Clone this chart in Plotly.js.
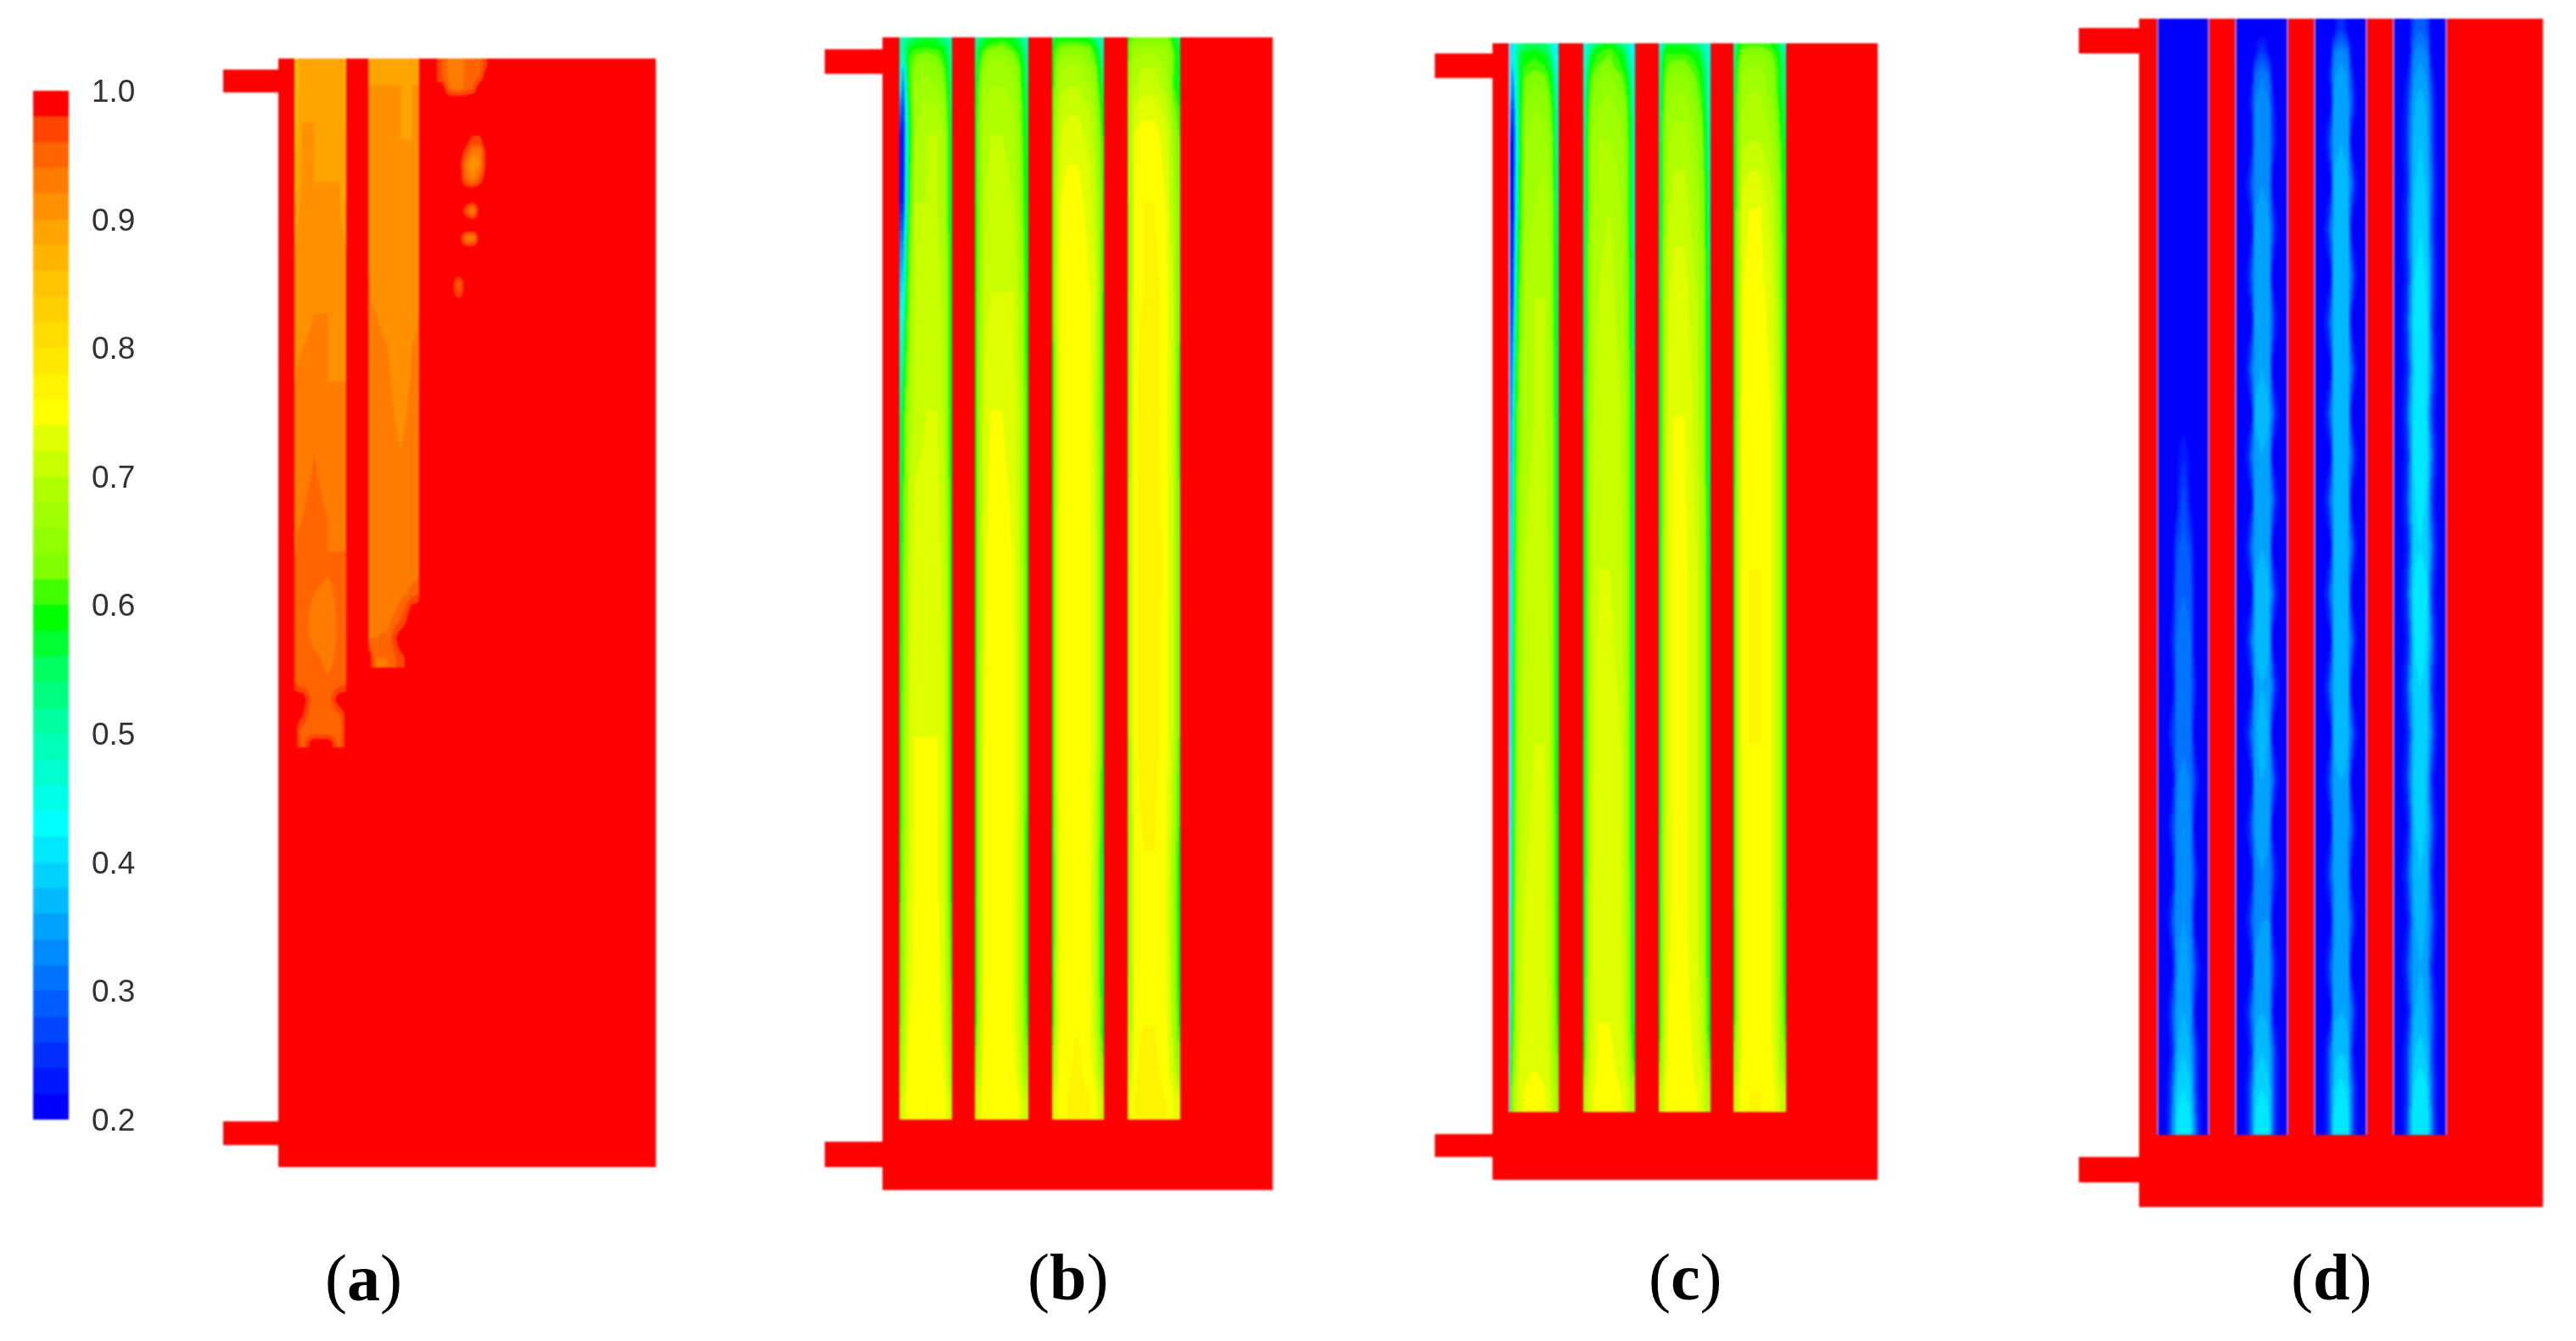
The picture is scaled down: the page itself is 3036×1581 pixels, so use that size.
<!DOCTYPE html>
<html>
<head>
<meta charset="utf-8">
<script src="https://cdn.plot.ly/plotly-3.0.1.min.js"></script>
<style>
	html, body { margin: 0; padding: 0; background: #ffffff; }
	#plot { width: 3036px; height: 1581px; }
	/* the source picture is a soft raster, so take the edge off the fields */
	#plot .cartesianlayer, #plot .cbfills { filter: blur(1.2px); }
</style>
</head>
<body>
<div id="plot"></div>
<script>
const WIDTH = 3036;
const HEIGHT = 1581;

// 40 legend bands, from 0.20 up to 1.00
const bandColors = [
	"#0000ff", "#0017ff", "#002eff", "#0046ff", "#005dff", "#0074ff", "#008bff", "#00a2ff",
	"#00b9ff", "#00d1ff", "#00e8ff", "#00ffff", "#00ffe8", "#00ffd0", "#00ffb8", "#00ffa0",
	"#00ff80", "#00ff60", "#00ff30", "#00ff00", "#40ff00", "#80ff00", "#90ff00", "#a0ff00",
	"#b0ff00", "#c8ff00", "#e0ff00", "#ffff00", "#fff400", "#ffe800", "#ffdc00", "#ffd000",
	"#ffc400", "#ffb400", "#ffa400", "#ff9000", "#ff7c00", "#ff6400", "#ff4400", "#ff0000",
];
const legendTicks = [0.2, 0.3, 0.4, 0.5, 0.6, 0.7, 0.8, 0.9, 1.0];
const panelLabels = ["a", "b", "c", "d"];

// Geometry of each unit in its own axis units
const bodyA = { w: 445, h: 1307, inlet: 65, top: [13, 40], bottom: [1253, 1281] };
const bodyB = { w: 460, h: 1359, inlet: 68, top: [14, 43], bottom: [1302, 1332] };
const bodyC = { w: 454, h: 1340, inlet: 68, top: [12, 41], bottom: [1286, 1313] };
const bodyD = { w: 476, h: 1401, inlet: 71, top: [11, 41], bottom: [1342, 1372] };

const channelsB = [[20, 82], [109, 172], [200, 261], [289, 351]];
const channelsC = [[20, 78], [107, 168], [196, 257], [284, 346]];
const channelsD = [[22, 82], [114, 175], [207, 268], [300, 362]];

// Panel (a): two partly filled channels and the small patches next to them
const colsA = [0, 0.05, 0.25, 0.5, 0.75, 0.95, 1];
const xA1 = [19, 80];
const yA1 = [0, 40, 110, 180, 260, 340, 420, 500, 580, 640, 690, 725, 745, 765, 785, 800, 812];
const zA1 = [
	[0.84, 0.895, 0.895, 0.895, 0.895, 0.86],
	[0.85, 0.90, 0.90, 0.90, 0.90, 0.86],
	[0.87, 0.905, 0.90, 0.90, 0.90, 0.87],
	[0.90, 0.91, 0.905, 0.905, 0.905, 0.90],
	[0.91, 0.915, 0.92, 0.92, 0.91, 0.91],
	[0.92, 0.925, 0.925, 0.92, 0.92, 0.92],
	[0.925, 0.93, 0.94, 0.93, 0.925, 0.925],
	[0.935, 0.94, 0.945, 0.94, 0.935, 0.935],
	[0.945, 0.95, 0.945, 0.94, 0.945, 0.945],
	[0.945, 0.95, 0.93, 0.925, 0.945, 0.945],
	[0.945, 0.945, 0.945, 0.935, 0.945, 0.945],
	[0.96, 0.945, 0.945, 0.945, 0.945, 0.96],
	[1, 1, 0.945, 0.945, 1, 1],
	[1, 0.98, 0.94, 0.94, 0.95, 1],
	[1, 0.945, 0.945, 0.945, 0.945, 1],
	[1, 0.95, 1, 1, 0.95, 1],
];
const xA2 = [106, 166];
const yA2 = [0, 60, 130, 210, 300, 380, 460, 530, 580, 620, 640, 670, 695, 718, 735];
const zA2 = [
	[0.90, 0.90, 0.90, 0.90, 0.90, 0.90],
	[0.905, 0.905, 0.905, 0.90, 0.90, 0.905],
	[0.915, 0.91, 0.905, 0.90, 0.905, 0.905],
	[0.92, 0.915, 0.91, 0.905, 0.91, 0.915],
	[0.925, 0.925, 0.92, 0.91, 0.92, 0.925],
	[0.93, 0.925, 0.925, 0.915, 0.925, 0.93],
	[0.93, 0.93, 0.93, 0.925, 0.93, 0.935],
	[0.935, 0.925, 0.93, 0.925, 0.925, 0.935],
	[0.93, 0.925, 0.925, 0.925, 0.93, 0.935],
	[0.935, 0.93, 0.925, 0.93, 0.95, 0.96],
	[0.935, 0.93, 0.93, 0.95, 1, 1],
	[0.94, 0.94, 0.945, 1, 1, 1],
	[1, 0.94, 0.94, 0.97, 1, 1],
];
const xPatch = [187, 197, 207, 217, 225, 233, 241, 251];
const yPatch = [0, 14, 28, 41, 55, 100, 116, 132, 148, 162, 172, 186, 198, 205, 218, 230, 242, 258, 270, 282, 296];
const zPatch = [
	[0.96, 0.93, 0.93, 0.945, 0.95, 0.95, 0.98],
	[0.96, 0.93, 0.93, 0.945, 0.95, 0.96, 1],
	[1, 0.94, 0.93, 0.95, 0.96, 1, 1],
	[1, 1, 1, 1, 1, 1, 1],
	[1, 1, 1, 1, 1, 1, 1],
	[1, 1, 1, 0.97, 0.93, 0.93, 1],
	[1, 1, 1, 0.93, 0.90, 0.92, 1],
	[1, 1, 1, 0.94, 0.92, 0.96, 1],
	[1, 1, 1, 1, 1, 1, 1],
	[1, 1, 1, 1, 1, 1, 1],
	[1, 1, 1, 0.96, 0.92, 1, 1],
	[1, 1, 1, 1, 1, 1, 1],
	[1, 1, 1, 1, 1, 1, 1],
	[1, 1, 1, 0.93, 0.92, 1, 1],
	[1, 1, 1, 1, 1, 1, 1],
	[1, 1, 1, 1, 1, 1, 1],
	[1, 1, 1, 1, 1, 1, 1],
	[1, 1, 0.95, 1, 1, 1, 1],
	[1, 1, 0.96, 1, 1, 1, 1],
	[1, 1, 1, 1, 1, 1, 1],
];

// Panels (b) and (c): same grid across and along every channel
const colsFlow = [0, 0.03, 0.09, 0.17, 0.4, 0.6, 0.83, 0.92, 1];
const yFlowB = [0, 6, 16, 36, 80, 150, 240, 360, 520, 720, 930, 1110, 1220, 1276];
const zB1 = [
	[0.48, 0.50, 0.52, 0.56, 0.58, 0.56, 0.52, 0.48],
	[0.50, 0.50, 0.56, 0.59, 0.60, 0.59, 0.56, 0.50],
	[0.52, 0.44, 0.58, 0.63, 0.64, 0.63, 0.58, 0.52],
	[0.44, 0.30, 0.54, 0.66, 0.67, 0.66, 0.62, 0.54],
	[0.24, 0.22, 0.46, 0.68, 0.70, 0.70, 0.66, 0.56],
	[0.24, 0.24, 0.50, 0.70, 0.70, 0.70, 0.67, 0.56],
	[0.40, 0.42, 0.60, 0.70, 0.71, 0.71, 0.68, 0.58],
	[0.52, 0.58, 0.66, 0.71, 0.72, 0.72, 0.68, 0.58],
	[0.56, 0.62, 0.69, 0.73, 0.73, 0.73, 0.70, 0.60],
	[0.58, 0.64, 0.70, 0.74, 0.74, 0.74, 0.71, 0.60],
	[0.60, 0.66, 0.71, 0.745, 0.75, 0.745, 0.71, 0.60],
	[0.62, 0.68, 0.73, 0.75, 0.75, 0.75, 0.72, 0.64],
	[0.68, 0.72, 0.75, 0.755, 0.76, 0.755, 0.74, 0.70],
];
const zB2 = [
	[0.50, 0.52, 0.56, 0.58, 0.60, 0.58, 0.52, 0.48],
	[0.52, 0.56, 0.58, 0.62, 0.63, 0.60, 0.54, 0.50],
	[0.54, 0.58, 0.63, 0.66, 0.66, 0.64, 0.58, 0.52],
	[0.56, 0.62, 0.66, 0.68, 0.68, 0.67, 0.60, 0.54],
	[0.58, 0.64, 0.68, 0.70, 0.70, 0.69, 0.62, 0.56],
	[0.58, 0.64, 0.69, 0.71, 0.71, 0.70, 0.64, 0.56],
	[0.60, 0.64, 0.70, 0.72, 0.72, 0.72, 0.66, 0.58],
	[0.60, 0.66, 0.71, 0.74, 0.74, 0.73, 0.68, 0.60],
	[0.60, 0.66, 0.72, 0.75, 0.75, 0.74, 0.68, 0.60],
	[0.60, 0.68, 0.73, 0.75, 0.75, 0.74, 0.69, 0.60],
	[0.58, 0.68, 0.73, 0.75, 0.75, 0.74, 0.68, 0.58],
	[0.60, 0.68, 0.74, 0.75, 0.75, 0.74, 0.68, 0.60],
	[0.70, 0.72, 0.75, 0.755, 0.76, 0.755, 0.72, 0.70],
];
const zB3 = [
	[0.54, 0.58, 0.60, 0.60, 0.60, 0.58, 0.50, 0.48],
	[0.58, 0.60, 0.62, 0.63, 0.63, 0.62, 0.54, 0.50],
	[0.60, 0.62, 0.65, 0.67, 0.67, 0.64, 0.58, 0.52],
	[0.60, 0.64, 0.69, 0.70, 0.70, 0.68, 0.62, 0.56],
	[0.62, 0.66, 0.71, 0.73, 0.73, 0.71, 0.66, 0.60],
	[0.62, 0.68, 0.73, 0.75, 0.75, 0.73, 0.68, 0.62],
	[0.62, 0.68, 0.74, 0.755, 0.755, 0.74, 0.70, 0.60],
	[0.58, 0.66, 0.74, 0.755, 0.755, 0.74, 0.68, 0.60],
	[0.60, 0.68, 0.74, 0.755, 0.76, 0.74, 0.70, 0.60],
	[0.60, 0.68, 0.74, 0.755, 0.76, 0.74, 0.70, 0.60],
	[0.56, 0.66, 0.74, 0.75, 0.755, 0.74, 0.66, 0.54],
	[0.60, 0.69, 0.74, 0.755, 0.76, 0.74, 0.68, 0.58],
	[0.70, 0.73, 0.75, 0.76, 0.77, 0.76, 0.73, 0.70],
];
const zB4 = [
	[0.60, 0.62, 0.64, 0.64, 0.64, 0.64, 0.58, 0.54],
	[0.62, 0.64, 0.66, 0.66, 0.66, 0.66, 0.60, 0.56],
	[0.62, 0.66, 0.68, 0.69, 0.69, 0.67, 0.62, 0.56],
	[0.64, 0.68, 0.70, 0.71, 0.71, 0.69, 0.60, 0.58],
	[0.66, 0.70, 0.74, 0.75, 0.75, 0.73, 0.66, 0.62],
	[0.64, 0.70, 0.75, 0.76, 0.76, 0.74, 0.68, 0.64],
	[0.64, 0.71, 0.75, 0.76, 0.77, 0.75, 0.70, 0.64],
	[0.62, 0.72, 0.75, 0.77, 0.77, 0.75, 0.70, 0.60],
	[0.66, 0.72, 0.75, 0.77, 0.78, 0.75, 0.70, 0.64],
	[0.64, 0.72, 0.75, 0.77, 0.77, 0.75, 0.70, 0.62],
	[0.62, 0.70, 0.74, 0.755, 0.755, 0.74, 0.66, 0.58],
	[0.66, 0.71, 0.75, 0.76, 0.76, 0.75, 0.68, 0.60],
	[0.72, 0.74, 0.76, 0.77, 0.77, 0.76, 0.74, 0.72],
];

const yFlowC = [0, 6, 16, 36, 80, 150, 240, 360, 520, 720, 930, 1100, 1210, 1260];
const zC1 = [
	[0.42, 0.42, 0.48, 0.54, 0.56, 0.54, 0.46, 0.42],
	[0.40, 0.42, 0.50, 0.58, 0.59, 0.57, 0.48, 0.42],
	[0.40, 0.40, 0.50, 0.60, 0.61, 0.60, 0.52, 0.44],
	[0.40, 0.28, 0.46, 0.63, 0.65, 0.64, 0.58, 0.48],
	[0.22, 0.21, 0.40, 0.66, 0.67, 0.67, 0.62, 0.50],
	[0.22, 0.21, 0.44, 0.67, 0.68, 0.69, 0.64, 0.52],
	[0.24, 0.26, 0.52, 0.68, 0.70, 0.70, 0.65, 0.54],
	[0.30, 0.42, 0.60, 0.69, 0.70, 0.70, 0.66, 0.54],
	[0.36, 0.48, 0.64, 0.70, 0.71, 0.71, 0.67, 0.54],
	[0.40, 0.52, 0.66, 0.71, 0.72, 0.72, 0.67, 0.56],
	[0.44, 0.56, 0.68, 0.72, 0.73, 0.72, 0.68, 0.58],
	[0.50, 0.60, 0.69, 0.73, 0.73, 0.73, 0.68, 0.60],
	[0.60, 0.66, 0.71, 0.74, 0.75, 0.74, 0.70, 0.66],
];
const zC2 = [
	[0.44, 0.44, 0.50, 0.56, 0.60, 0.54, 0.46, 0.42],
	[0.44, 0.46, 0.54, 0.60, 0.62, 0.58, 0.48, 0.44],
	[0.46, 0.50, 0.58, 0.62, 0.63, 0.60, 0.52, 0.46],
	[0.48, 0.54, 0.62, 0.65, 0.66, 0.64, 0.58, 0.48],
	[0.50, 0.58, 0.65, 0.68, 0.68, 0.67, 0.60, 0.50],
	[0.52, 0.58, 0.66, 0.69, 0.70, 0.68, 0.60, 0.50],
	[0.52, 0.60, 0.67, 0.70, 0.71, 0.69, 0.62, 0.52],
	[0.54, 0.62, 0.68, 0.71, 0.72, 0.70, 0.64, 0.54],
	[0.54, 0.62, 0.69, 0.72, 0.72, 0.71, 0.64, 0.54],
	[0.54, 0.62, 0.70, 0.73, 0.73, 0.72, 0.64, 0.54],
	[0.54, 0.64, 0.71, 0.73, 0.74, 0.72, 0.66, 0.54],
	[0.56, 0.66, 0.71, 0.74, 0.74, 0.73, 0.66, 0.56],
	[0.66, 0.70, 0.73, 0.745, 0.75, 0.74, 0.70, 0.66],
];
const zC3 = [
	[0.44, 0.50, 0.56, 0.58, 0.58, 0.54, 0.48, 0.44],
	[0.46, 0.54, 0.60, 0.60, 0.60, 0.58, 0.50, 0.44],
	[0.50, 0.56, 0.61, 0.63, 0.63, 0.60, 0.54, 0.46],
	[0.50, 0.58, 0.64, 0.66, 0.66, 0.63, 0.56, 0.48],
	[0.52, 0.60, 0.66, 0.69, 0.69, 0.66, 0.60, 0.50],
	[0.52, 0.60, 0.68, 0.71, 0.71, 0.68, 0.62, 0.52],
	[0.54, 0.62, 0.70, 0.73, 0.73, 0.70, 0.64, 0.54],
	[0.54, 0.62, 0.71, 0.74, 0.74, 0.71, 0.64, 0.54],
	[0.54, 0.64, 0.72, 0.745, 0.745, 0.72, 0.66, 0.56],
	[0.54, 0.64, 0.72, 0.745, 0.745, 0.72, 0.66, 0.56],
	[0.56, 0.66, 0.72, 0.745, 0.745, 0.72, 0.66, 0.56],
	[0.58, 0.66, 0.73, 0.75, 0.75, 0.73, 0.68, 0.58],
	[0.68, 0.71, 0.74, 0.75, 0.755, 0.74, 0.71, 0.68],
];
const zC4 = [
	[0.48, 0.56, 0.60, 0.62, 0.62, 0.60, 0.54, 0.48],
	[0.50, 0.58, 0.63, 0.64, 0.64, 0.62, 0.56, 0.50],
	[0.52, 0.60, 0.65, 0.66, 0.66, 0.64, 0.58, 0.52],
	[0.54, 0.62, 0.66, 0.68, 0.68, 0.65, 0.58, 0.54],
	[0.56, 0.63, 0.69, 0.70, 0.70, 0.68, 0.62, 0.56],
	[0.56, 0.64, 0.72, 0.74, 0.74, 0.71, 0.64, 0.58],
	[0.58, 0.66, 0.73, 0.75, 0.75, 0.73, 0.66, 0.58],
	[0.56, 0.66, 0.74, 0.755, 0.755, 0.74, 0.68, 0.58],
	[0.58, 0.68, 0.74, 0.76, 0.76, 0.74, 0.68, 0.58],
	[0.58, 0.68, 0.74, 0.76, 0.76, 0.74, 0.68, 0.58],
	[0.58, 0.68, 0.74, 0.755, 0.755, 0.74, 0.68, 0.58],
	[0.60, 0.68, 0.74, 0.755, 0.755, 0.74, 0.68, 0.60],
	[0.70, 0.72, 0.75, 0.76, 0.76, 0.75, 0.72, 0.70],
];

// Panel (d): blue channels with a thin wavering core
const colsCore = [0, 0.24, 0.32, 0.4, 0.6, 0.68, 0.76, 1];
const yCore = [0, 25, 50, 80, 120, 170, 220, 275, 330, 385, 440, 490, 540, 595, 650, 705, 760, 815, 870, 925, 980, 1035, 1090, 1145, 1195, 1240, 1280, 1316];
const zD1 = [
	[0.2, 0.2, 0.2, 0.2, 0.2, 0.2, 0.2], [0.2, 0.2, 0.2, 0.2, 0.2, 0.2, 0.2],
	[0.2, 0.2, 0.2, 0.2, 0.2, 0.2, 0.2], [0.2, 0.2, 0.2, 0.2, 0.2, 0.2, 0.2],
	[0.2, 0.2, 0.2, 0.2, 0.2, 0.2, 0.2], [0.2, 0.2, 0.2, 0.2, 0.2, 0.2, 0.2],
	[0.2, 0.2, 0.2, 0.2, 0.2, 0.2, 0.2], [0.2, 0.2, 0.2, 0.2, 0.2, 0.2, 0.2],
	[0.2, 0.2, 0.2, 0.2, 0.2, 0.2, 0.2], [0.2, 0.2, 0.2, 0.2, 0.2, 0.2, 0.2],
	[0.2, 0.2, 0.2, 0.2, 0.2, 0.2, 0.2], [0.2, 0.2, 0.2, 0.24, 0.2, 0.2, 0.2],
	[0.2, 0.2, 0.2, 0.28, 0.2, 0.2, 0.2], [0.2, 0.2, 0.27, 0.29, 0.27, 0.2, 0.2],
	[0.2, 0.2, 0.29, 0.30, 0.29, 0.2, 0.2], [0.2, 0.24, 0.30, 0.31, 0.30, 0.2, 0.2],
	[0.2, 0.2, 0.30, 0.31, 0.30, 0.24, 0.2], [0.2, 0.26, 0.30, 0.31, 0.30, 0.2, 0.2],
	[0.2, 0.2, 0.31, 0.33, 0.31, 0.26, 0.2], [0.2, 0.26, 0.32, 0.34, 0.32, 0.2, 0.2],
	[0.2, 0.2, 0.33, 0.34, 0.33, 0.26, 0.2], [0.2, 0.28, 0.33, 0.34, 0.33, 0.2, 0.2],
	[0.2, 0.2, 0.33, 0.35, 0.33, 0.28, 0.2], [0.2, 0.28, 0.34, 0.36, 0.34, 0.22, 0.2],
	[0.2, 0.24, 0.35, 0.38, 0.35, 0.28, 0.2], [0.2, 0.30, 0.38, 0.40, 0.38, 0.28, 0.2],
	[0.2, 0.32, 0.40, 0.42, 0.40, 0.32, 0.2],
];
const zD2 = [
	[0.2, 0.2, 0.2, 0.2, 0.2, 0.2, 0.2], [0.2, 0.2, 0.2, 0.26, 0.2, 0.2, 0.2],
	[0.2, 0.2, 0.29, 0.32, 0.29, 0.2, 0.2], [0.2, 0.24, 0.32, 0.33, 0.32, 0.24, 0.2],
	[0.2, 0.2, 0.33, 0.34, 0.33, 0.26, 0.2], [0.2, 0.28, 0.33, 0.34, 0.33, 0.2, 0.2],
	[0.2, 0.2, 0.34, 0.35, 0.34, 0.28, 0.2], [0.2, 0.28, 0.35, 0.36, 0.35, 0.2, 0.2],
	[0.2, 0.2, 0.35, 0.36, 0.35, 0.28, 0.2], [0.2, 0.30, 0.35, 0.36, 0.35, 0.2, 0.2],
	[0.2, 0.2, 0.36, 0.37, 0.36, 0.30, 0.2], [0.2, 0.30, 0.35, 0.36, 0.35, 0.2, 0.2],
	[0.2, 0.2, 0.35, 0.36, 0.35, 0.30, 0.2], [0.2, 0.30, 0.35, 0.36, 0.35, 0.2, 0.2],
	[0.2, 0.2, 0.36, 0.37, 0.36, 0.30, 0.2], [0.2, 0.30, 0.36, 0.37, 0.36, 0.2, 0.2],
	[0.2, 0.2, 0.35, 0.36, 0.35, 0.30, 0.2], [0.2, 0.30, 0.35, 0.37, 0.35, 0.2, 0.2],
	[0.2, 0.2, 0.35, 0.36, 0.35, 0.30, 0.2], [0.2, 0.28, 0.34, 0.35, 0.34, 0.2, 0.2],
	[0.2, 0.2, 0.33, 0.34, 0.33, 0.28, 0.2], [0.2, 0.28, 0.33, 0.34, 0.34, 0.2, 0.2],
	[0.2, 0.2, 0.34, 0.35, 0.34, 0.28, 0.2], [0.2, 0.30, 0.35, 0.36, 0.35, 0.22, 0.2],
	[0.2, 0.24, 0.36, 0.38, 0.36, 0.30, 0.2], [0.2, 0.30, 0.38, 0.40, 0.38, 0.30, 0.2],
	[0.2, 0.30, 0.40, 0.42, 0.40, 0.30, 0.2],
];
const zD3 = [
	[0.2, 0.2, 0.2, 0.26, 0.2, 0.2, 0.2], [0.2, 0.2, 0.30, 0.33, 0.30, 0.2, 0.2],
	[0.2, 0.24, 0.33, 0.35, 0.33, 0.24, 0.2], [0.2, 0.2, 0.34, 0.36, 0.34, 0.28, 0.2],
	[0.2, 0.28, 0.35, 0.36, 0.35, 0.2, 0.2], [0.2, 0.2, 0.36, 0.37, 0.36, 0.30, 0.2],
	[0.2, 0.30, 0.36, 0.38, 0.36, 0.2, 0.2], [0.2, 0.2, 0.37, 0.38, 0.37, 0.30, 0.2],
	[0.2, 0.30, 0.37, 0.38, 0.37, 0.2, 0.2], [0.2, 0.2, 0.37, 0.38, 0.37, 0.30, 0.2],
	[0.2, 0.30, 0.37, 0.38, 0.37, 0.2, 0.2], [0.2, 0.2, 0.36, 0.37, 0.36, 0.30, 0.2],
	[0.2, 0.30, 0.36, 0.38, 0.36, 0.2, 0.2], [0.2, 0.2, 0.36, 0.37, 0.36, 0.30, 0.2],
	[0.2, 0.30, 0.36, 0.37, 0.36, 0.2, 0.2], [0.2, 0.2, 0.36, 0.38, 0.36, 0.30, 0.2],
	[0.2, 0.30, 0.36, 0.37, 0.36, 0.2, 0.2], [0.2, 0.2, 0.36, 0.38, 0.36, 0.30, 0.2],
	[0.2, 0.28, 0.35, 0.36, 0.35, 0.2, 0.2], [0.2, 0.2, 0.34, 0.35, 0.34, 0.28, 0.2],
	[0.2, 0.28, 0.34, 0.35, 0.33, 0.2, 0.2], [0.2, 0.2, 0.33, 0.35, 0.34, 0.28, 0.2],
	[0.2, 0.28, 0.34, 0.36, 0.34, 0.2, 0.2], [0.2, 0.2, 0.35, 0.36, 0.35, 0.30, 0.2],
	[0.2, 0.30, 0.37, 0.38, 0.37, 0.24, 0.2], [0.2, 0.30, 0.38, 0.41, 0.38, 0.30, 0.2],
	[0.2, 0.30, 0.41, 0.42, 0.41, 0.30, 0.2],
];
const zD4 = [
	[0.2, 0.2, 0.27, 0.30, 0.27, 0.2, 0.2], [0.2, 0.2, 0.31, 0.33, 0.31, 0.2, 0.2],
	[0.2, 0.24, 0.33, 0.35, 0.33, 0.24, 0.2], [0.2, 0.28, 0.35, 0.37, 0.35, 0.28, 0.2],
	[0.2, 0.30, 0.36, 0.38, 0.36, 0.28, 0.2], [0.2, 0.28, 0.37, 0.39, 0.37, 0.30, 0.2],
	[0.2, 0.31, 0.38, 0.40, 0.38, 0.28, 0.2], [0.2, 0.28, 0.39, 0.41, 0.39, 0.31, 0.2],
	[0.2, 0.32, 0.40, 0.42, 0.40, 0.28, 0.2], [0.2, 0.28, 0.39, 0.41, 0.40, 0.32, 0.2],
	[0.2, 0.33, 0.40, 0.42, 0.39, 0.26, 0.2], [0.2, 0.28, 0.40, 0.42, 0.40, 0.32, 0.2],
	[0.2, 0.32, 0.39, 0.41, 0.39, 0.26, 0.2], [0.2, 0.26, 0.39, 0.40, 0.38, 0.32, 0.2],
	[0.2, 0.32, 0.40, 0.42, 0.40, 0.26, 0.2], [0.2, 0.26, 0.39, 0.42, 0.39, 0.32, 0.2],
	[0.2, 0.32, 0.38, 0.40, 0.38, 0.26, 0.2], [0.2, 0.26, 0.37, 0.39, 0.38, 0.32, 0.2],
	[0.2, 0.30, 0.38, 0.40, 0.37, 0.24, 0.2], [0.2, 0.24, 0.37, 0.39, 0.37, 0.30, 0.2],
	[0.2, 0.30, 0.36, 0.38, 0.36, 0.24, 0.2], [0.2, 0.24, 0.35, 0.37, 0.35, 0.30, 0.2],
	[0.2, 0.30, 0.34, 0.36, 0.35, 0.24, 0.2], [0.2, 0.24, 0.35, 0.37, 0.35, 0.30, 0.2],
	[0.2, 0.30, 0.37, 0.39, 0.37, 0.28, 0.2], [0.2, 0.30, 0.39, 0.42, 0.39, 0.30, 0.2],
	[0.2, 0.32, 0.42, 0.42, 0.42, 0.32, 0.2],
];

// Pixel boxes of the four units on the page [left, top, right, bottom]
const boxes = [
	[263, 69, 773, 1376],
	[972, 44, 1500, 1403],
	[1691, 51, 2213, 1391],
	[2450, 22, 2997, 1423],
];
const bodies = [bodyA, bodyB, bodyC, bodyD];
const labelCentres = [[429, 1506], [1258, 1505], [1987, 1505], [2747, 1505]];

const colorscale = [];
bandColors.forEach((color, i) => {
	colorscale.push([i / bandColors.length, color]);
	colorscale.push([(i + 1) / bandColors.length, color]);
});

function heat(panel, x, y, z, smooth) {
	return {
		type: "heatmap",
		x: x,
		y: y,
		z: z,
		coloraxis: "coloraxis",
		zsmooth: smooth ? "best" : false,
		hoverinfo: "skip",
		xaxis: `x${panel + 1}`,
		yaxis: `y${panel + 1}`,
	};
}

function channelHeat(panel, span, cols, y, z) {
	const x = cols.map((f) => span[0] + f * (span[1] - span[0]));
	return heat(panel, x, y, z, true);
}

function wallLines(panel, span, length, color) {
	return span.map((xValue) => ({
		type: "scatter",
		mode: "lines",
		x: [xValue, xValue],
		y: [0, length],
		line: { color: color, width: 2 },
		hoverinfo: "skip",
		showlegend: false,
		xaxis: `x${panel + 1}`,
		yaxis: `y${panel + 1}`,
	}));
}

const traces = [];
bodies.forEach((b, i) => {
	traces.push(heat(i, [0, b.w], [0, b.h], [[1]], false));
	traces.push(heat(i, [-b.inlet, 0], b.top, [[1]], false));
	traces.push(heat(i, [-b.inlet, 0], b.bottom, [[1]], false));
});

traces.push(channelHeat(0, xA1, colsA, yA1, zA1));
traces.push(channelHeat(0, xA2, colsA, yA2, zA2));
traces.push(heat(0, xPatch, yPatch, zPatch, true));

[zB1, zB2, zB3, zB4].forEach((z, i) => {
	traces.push(channelHeat(1, channelsB[i], colsFlow, yFlowB, z));
});
[zC1, zC2, zC3, zC4].forEach((z, i) => {
	traces.push(channelHeat(2, channelsC[i], colsFlow, yFlowC, z));
});
traces.push(...wallLines(2, [channelsC[0][0]], yFlowC[yFlowC.length - 1], "#a8c8ff"));
[zD1, zD2, zD3, zD4].forEach((z, i) => {
	traces.push(channelHeat(3, channelsD[i], colsCore, yCore, z));
	traces.push(...wallLines(3, channelsD[i], yCore[yCore.length - 1], "#b07ce6"));
});

const layout = {
	width: WIDTH,
	height: HEIGHT,
	margin: { l: 0, r: 0, t: 0, b: 0 },
	paper_bgcolor: "#ffffff",
	plot_bgcolor: "rgba(0,0,0,0)",
	showlegend: false,
	coloraxis: {
		colorscale: colorscale,
		cmin: 0.2,
		cmax: 1,
		colorbar: {
			x: 39 / WIDTH,
			xanchor: "left",
			xpad: 0,
			y: 1 - 1320 / HEIGHT,
			yanchor: "bottom",
			ypad: 0,
			lenmode: "pixels",
			len: 1213,
			thickness: 42,
			outlinewidth: 0,
			borderwidth: 0,
			tickvals: legendTicks,
			tickformat: ".1f",
			ticks: "outside",
			ticklen: 20,
			tickcolor: "rgba(0,0,0,0)",
			tickfont: { family: "Liberation Sans", size: 37, color: "#333333" },
		},
	},
	annotations: panelLabels.map((letter, i) => ({
		text: `(<b>${letter}</b>)`,
		xref: "paper",
		yref: "paper",
		x: labelCentres[i][0] / WIDTH,
		y: 1 - labelCentres[i][1] / HEIGHT,
		xanchor: "center",
		yanchor: "middle",
		showarrow: false,
		font: { family: "Liberation Serif", size: 78, color: "#000000" },
	})),
};

boxes.forEach((box, i) => {
	const b = bodies[i];
	layout[`xaxis${i + 1}`] = {
		domain: [box[0] / WIDTH, box[2] / WIDTH],
		range: [-b.inlet, b.w],
		visible: false,
		anchor: `y${i + 1}`,
	};
	layout[`yaxis${i + 1}`] = {
		domain: [1 - box[3] / HEIGHT, 1 - box[1] / HEIGHT],
		range: [b.h, 0],
		visible: false,
		anchor: `x${i + 1}`,
	};
});

Plotly.newPlot("plot", traces, layout, { displayModeBar: false, responsive: false });
</script>
</body>
</html>
